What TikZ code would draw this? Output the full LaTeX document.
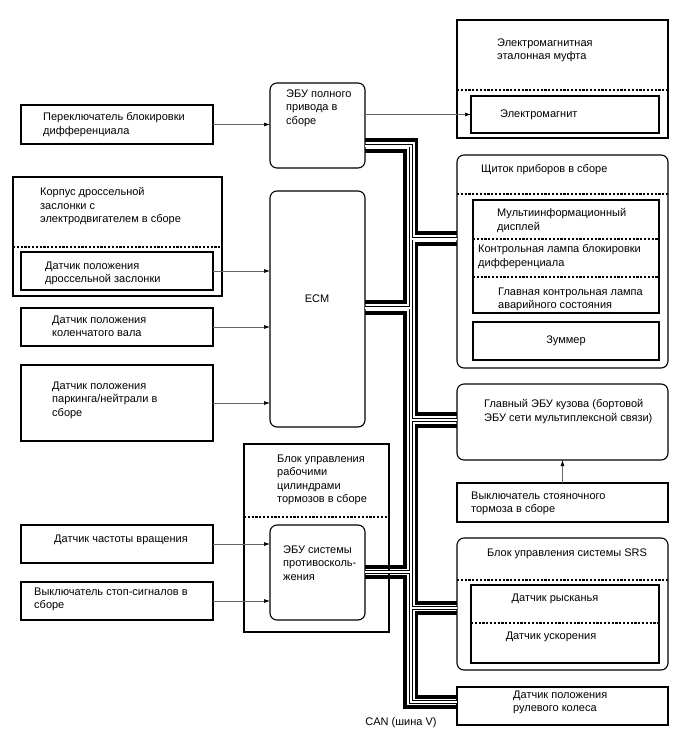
\documentclass[tikz,border=0pt]{standalone}
\usepackage{fontspec}
\setmainfont{Liberation Sans}
\usetikzlibrary{arrows.meta}

\newcommand\lblfont{\fontsize{11}{13.5}\selectfont}
\tikzset{
  box/.style={draw, line width=1.1pt, inner sep=0pt, outer sep=0pt},
  rbox/.style={box, rounded corners=7pt},
  lbl/.style={inner sep=0pt, align=left, anchor=north west, font=\lblfont},
  clbl/.style={inner sep=0pt, font=\lblfont},
  dsep/.style={line width=1.1pt, dash pattern=on 2.2pt off 1.6pt},
  sig/.style={draw=black!60, line width=0.7pt, -{Latex[length=6pt,width=4pt,black]}},
  canh/.style={line width=3.2pt},
  canl/.style={double, double distance=2pt, line width=0.9pt},
}

\begin{document}
\begin{tikzpicture}[x=1pt,y=-1pt]
\useasboundingbox (0,0) rectangle (688,755);

 \def\xin{405};
 \def\xdb{411};
 \def\xout{416.5};

	%plain boxes
    \foreach \cx/\cy/\w/\h/\name in { 562.5/79/211/118/muftaO, 565/114.5/188/37/magnet, 117/124.5/192/39/perekl,
          566/256.5/186/113/ipInner, 566/341/186/38/buzzer, 117.5/236.5/209/119/throttleO, 117/271/192/38/tps,
          117/327/192/38/crank, 117/403/192/76/park, 562.5/502.5/211/39/pbrake, 316.5/538/145/188/brakeO,
          117/544/192/38/speed, 117/601/192/38/stop, 565/624/188/78/srsInner, 562.5/706/211/38/steer}{
           \node[box, minimum width=\w, minimum height=\h] (\name) at (\cx,\cy) {};
    }

	%rounded boxes
    \foreach \cx/\cy/\w/\h/\name in { 317.5/125.5/95/85/ecu4wd, 562.5/261.5/211/213/ipanel, 317.5/309/95/236/ecm,
          562.5/422/211/76/body, 317.5/572.5/95/95/abs, 562.5/604/211/132/srs}{
           \node[rbox, minimum width=\w, minimum height=\h] (\name) at (\cx,\cy) {};
    }

	%dashed separators
    \foreach \name/\y in { muftaO/90, ipanel/194, throttleO/247, brakeO/517, srs/580, ipInner/239, ipInner/277, srsInner/623}{
           \draw[dsep] (\name.west |- 0,\y) -- (\name.east |- 0,\y);
    }

	%texts
    \node[lbl] (tMufta) at (497,38.5) {Электромагнитная\\эталонная муфта};
    \node[lbl] (tMagnet) at (500,110) {Электромагнит};
    \node[lbl] (tPerekl) at (43,112.5) {Переключатель блокировки\\дифференциала};
    \node[lbl] (tEcu4wd) at (286,89.5) {ЭБУ полного\\привода в\\сборе};
    \node[lbl] (tIpanel) at (481,164.5) {Щиток приборов в сборе};
    \node[lbl] (tMulti) at (497,208.5) {Мультиинформационный\\дисплей};
    \node[lbl] (tLamp) at (478,244.5) {Контрольная лампа блокировки\\дифференциала};
    \node[lbl] (tMil) at (498,287.5) {Главная контрольная лампа\\аварийного состояния};
    \node[clbl] (tBuzzer) at (buzzer) {Зуммер};
    \node[lbl] (tThrottle) at (40,187.5) {Корпус дроссельной\\заслонки с\\электродвигателем в сборе};
    \node[lbl] (tTps) at (45,261.5) {Датчик положения\\дроссельной заслонки};
    \node[clbl] (tEcm) at (317,299) {ECM};
    \node[lbl] (tCrank) at (52,315.5) {Датчик положения\\коленчатого вала};
    \node[lbl] (tPark) at (52,381.5) {Датчик положения\\паркинга/нейтрали в\\сборе};
    \node[lbl] (tBody) at (484,399.5) {Главный ЭБУ кузова (бортовой\\ЭБУ сети мультиплексной связи)};
    \node[lbl] (tPbrake) at (471,491.5) {Выключатель стояночного\\тормоза в сборе};
    \node[lbl] (tBrake) at (277,454.5) {Блок управления\\рабочими\\цилиндрами\\тормозов в сборе};
    \node[lbl] (tAbs) at (283,545.5) {ЭБУ системы\\противосколь-\\жения};
    \node[lbl] (tSpeed) at (54,534.5) {Датчик частоты вращения};
    \node[lbl] (tStop) at (34,587.5) {Выключатель стоп-сигналов в\\сборе};
    \node[clbl] (tSrs) at (567,554) {Блок управления системы SRS};
    \node[clbl] (tYaw) at (555,599) {Датчик рысканья};
    \node[clbl] (tAccel) at (551,637) {Датчик ускорения};
    \node[lbl] (tSteer) at (513,690.5) {Датчик положения\\рулевого колеса};
    \node[clbl] (tCan) at (401,723) {CAN (шина V)};

	%signal lines
    \draw[sig] (perekl.east) -- (ecu4wd.west |- perekl.east);
    \draw[sig] (ecu4wd.east |- magnet.west) -- (magnet.west);
    \draw[sig] (tps.east) -- (ecm.west |- tps.east);
    \draw[sig] (crank.east) -- (ecm.west |- crank.east);
    \draw[sig] (park.east) -- (ecm.west |- park.east);
    \draw[sig] (speed.east) -- (abs.west |- speed.east);
    \draw[sig] (stop.east) -- (abs.west |- stop.east);
    \draw[sig] (pbrake.north) -- (body.south -| pbrake.north);

	%CAN bus
    \draw[canh] (ecu4wd.east |- 0,140) -| (\xout,233) -- (ipanel.west |- 0,233)
         (ipanel.west |- 0,244) -| (\xout,414) -- (body.west |- 0,414)
         (body.west |- 0,426) -| (\xout,603) -- (srs.west |- 0,603)
         (srs.west |- 0,613) -| (\xout,697) -- (steer.west |- 0,697);
    \draw[canh] (ecu4wd.east |- 0,151) -| (\xin,302) -- (ecm.east |- 0,302)
         (ecm.east |- 0,313) -| (\xin,567) -- (abs.east |- 0,567)
         (abs.east |- 0,577) -| (\xin,707) -- (steer.west |- 0,707);
    \draw[canl] (ecu4wd.east |- 0,145.5) -| (\xdb,702) -- (steer.west |- 0,702)
         (ecm.east |- 0,307.5) -- (\xdb,307.5)
         (abs.east |- 0,572) -- (\xdb,572)
         (\xdb,238.5) -- (ipanel.west |- 0,238.5)
         (\xdb,420) -- (body.west |- 0,420)
         (\xdb,608) -- (srs.west |- 0,608);

\end{tikzpicture}
\end{document}
